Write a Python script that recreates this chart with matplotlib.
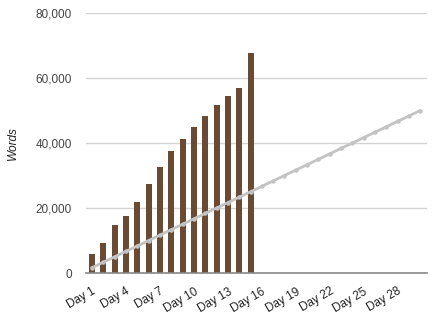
import matplotlib
matplotlib.use("Agg")
import matplotlib.pyplot as plt
from matplotlib.ticker import FuncFormatter
import numpy as np

plt.rcParams['font.family'] = ['Liberation Sans', 'DejaVu Sans']

days = ["Day %d" % d for d in range(1, 31)]
# words written so far (only the first 15 days have data)
actual_words = [5750, 9230, 14770, 17540, 21850, 27380, 32620, 37540,
                41230, 44820, 48310, 51590, 54360, 56920, 67690]
# target pace, 50,000 words over 30 days
target_words = [1667, 3333, 5000, 6667, 8333, 10000, 11667, 13333, 15000, 16667,
                18333, 20000, 21667, 23333, 25000, 26667, 28333, 30000, 31667, 33333,
                35000, 36667, 38333, 40000, 41667, 43333, 45000, 46667, 48333, 50000]
tick_days = days[::3]

fig = plt.figure(figsize=(4.38, 3.18), dpi=100)
ax = fig.add_axes([0.196, 0.1415, 0.779, 0.8175])

x = np.arange(len(days))
ax.bar(x[:len(actual_words)], actual_words, width=0.53, color='#6b4a34', zorder=2)
ax.plot(x, target_words, color='#c3c3c3', linewidth=2, marker='o', markersize=2.2, zorder=3)

ax.set_xlim(-0.55, 29.6)
ax.set_ylim(0, 80000)
ax.set_yticks([0, 20000, 40000, 60000, 80000])
ax.yaxis.set_major_formatter(FuncFormatter(lambda v, p: "{:,.0f}".format(v)))
ax.grid(axis='y', color='#d4d4d4', linewidth=1, zorder=0)
ax.set_axisbelow(True)

ax.set_xticks(x[::3])
ax.set_xticklabels(tick_days, rotation=30, ha='right', rotation_mode='anchor')

for s in ['top', 'right', 'left']:
    ax.spines[s].set_visible(False)
ax.spines['bottom'].set_color('#888888')
ax.spines['bottom'].set_linewidth(1.2)
ax.spines['bottom'].set_zorder(4)

ax.tick_params(axis='y', length=0, pad=10, labelsize=8.5, labelcolor='#444444')
ax.tick_params(axis='x', length=0, pad=9, labelsize=8.5, labelcolor='#222222')
ax.set_ylabel('Words', fontstyle='italic', fontsize=8.5, color='#222222', labelpad=12)

fig.savefig('out.png', dpi=100)
